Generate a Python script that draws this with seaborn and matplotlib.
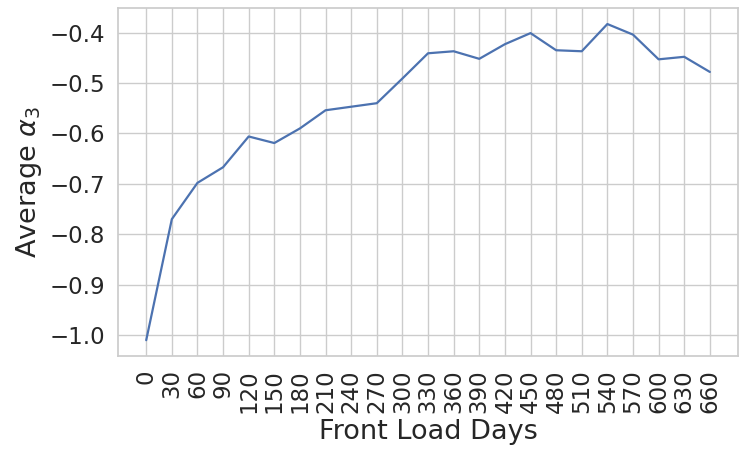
import numpy as np
import pandas as pd
import matplotlib
matplotlib.use('Agg')
import matplotlib.pyplot as plt
import seaborn as sns

# Front load days and the average alpha_3
front_load_days = [0, 30, 60, 90, 120, 150, 180, 210, 240, 270, 300, 330,
                   360, 390, 420, 450, 480, 510, 540, 570, 600, 630, 660]
avg_alpha3 = [-1.010, -0.770, -0.698, -0.667, -0.606, -0.619, -0.590, -0.554,
              -0.547, -0.540, -0.491, -0.441, -0.437, -0.452, -0.423, -0.401,
              -0.435, -0.437, -0.383, -0.404, -0.453, -0.448, -0.478]

data = pd.DataFrame({'Front Load Days': front_load_days, 'alpha3': avg_alpha3})

sns.set_theme(style='whitegrid', context='notebook', font_scale=1.5)

fig, ax = plt.subplots(figsize=(7.47, 4.57), dpi=100)
sns.lineplot(data=data, x='Front Load Days', y='alpha3', ax=ax, linewidth=1.6)

ax.set_xticks(front_load_days)
ax.set_xticklabels([str(d) for d in front_load_days], rotation=90)
ax.tick_params(labelsize=16.5)
ax.set_xlabel('Front Load Days', fontsize=19.5)
ax.set_ylabel(r'Average $\alpha_3$', fontsize=19.5)

plt.subplots_adjust(left=0.158, right=0.988, top=0.982, bottom=0.221)
plt.savefig('out.png', dpi=100)
